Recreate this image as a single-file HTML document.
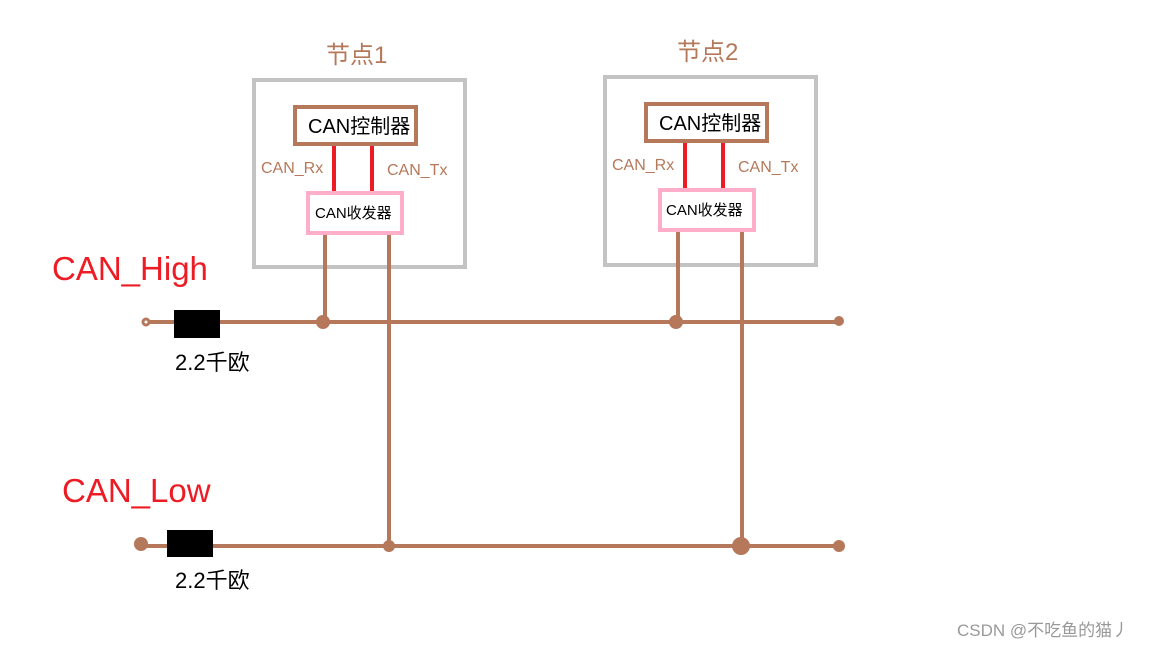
<!DOCTYPE html>
<html><head><meta charset="utf-8"><style>body{margin:0;background:#fff}svg{display:block}text{font-family:"Liberation Sans","Noto Sans CJK SC",sans-serif}</style></head><body>
<svg width="1152" height="648" viewBox="0 0 1152 648">
<g fill="none" stroke="#c3c3c3" stroke-width="4">
<rect x="254" y="80" width="211" height="187"/>
<rect x="605" y="77" width="211" height="188"/>
</g>
<g fill="#fff" stroke="#b5785a" stroke-width="4">
<rect x="295" y="107" width="121" height="37"/>
<rect x="646" y="104" width="121" height="37"/>
</g>
<g stroke="#ed1c24" stroke-width="4">
<line x1="334" y1="146" x2="334" y2="193"/><line x1="372" y1="146" x2="372" y2="193"/>
<line x1="685" y1="143" x2="685" y2="190"/><line x1="723" y1="143" x2="723" y2="190"/>
</g>
<g fill="#fff" stroke="#ffaec9" stroke-width="4">
<rect x="308" y="193" width="94" height="40"/>
<rect x="660" y="190" width="94" height="40"/>
</g>
<g stroke="#b5785a" stroke-width="4" fill="#b5785a">
<line x1="145" y1="322" x2="840" y2="322"/>
<line x1="140" y1="546" x2="840" y2="546"/>
<line x1="325" y1="235" x2="325" y2="322"/>
<line x1="389" y1="235" x2="389" y2="546"/>
<line x1="678" y1="232" x2="678" y2="322"/>
<line x1="742" y1="232" x2="742" y2="546"/>
<circle cx="146" cy="322" r="3" fill="#fff" stroke-width="3"/>
<circle cx="839" cy="321" r="5" stroke="none"/>
<circle cx="323" cy="322" r="7" stroke="none"/>
<circle cx="676" cy="322" r="7" stroke="none"/>
<circle cx="141" cy="544" r="7" stroke="none"/>
<circle cx="389" cy="546" r="6" stroke="none"/>
<circle cx="741" cy="546" r="9" stroke="none"/>
<circle cx="839" cy="546" r="6" stroke="none"/>
</g>
<rect x="174" y="310" width="46" height="28" fill="#000"/>
<rect x="167" y="530" width="46" height="27" fill="#000"/>
<g fill="#b5785a">
<text x="326" y="63" font-size="24">节点1</text>
<text x="677" y="60" font-size="24">节点2</text>
<text x="261" y="173" font-size="16">CAN_Rx</text>
<text x="387" y="175" font-size="16">CAN_Tx</text>
<text x="612" y="170" font-size="16">CAN_Rx</text>
<text x="738" y="172" font-size="16">CAN_Tx</text>
</g>
<g fill="#000">
<text x="308" y="133" font-size="20">CAN控制器</text>
<text x="659" y="130" font-size="20">CAN控制器</text>
<text x="315" y="218" font-size="15">CAN收发器</text>
<text x="666" y="215" font-size="15">CAN收发器</text>
<text x="175" y="370" font-size="22">2.2千欧</text>
<text x="175" y="588" font-size="22">2.2千欧</text>
</g>
<g fill="#ed1c24" font-size="33">
<text x="52" y="280">CAN_High</text>
<text x="62" y="502">CAN_Low</text>
</g>
<text x="957" y="636" font-size="17" fill="#999">CSDN @不吃鱼的猫丿</text>
</svg>
</body></html>
